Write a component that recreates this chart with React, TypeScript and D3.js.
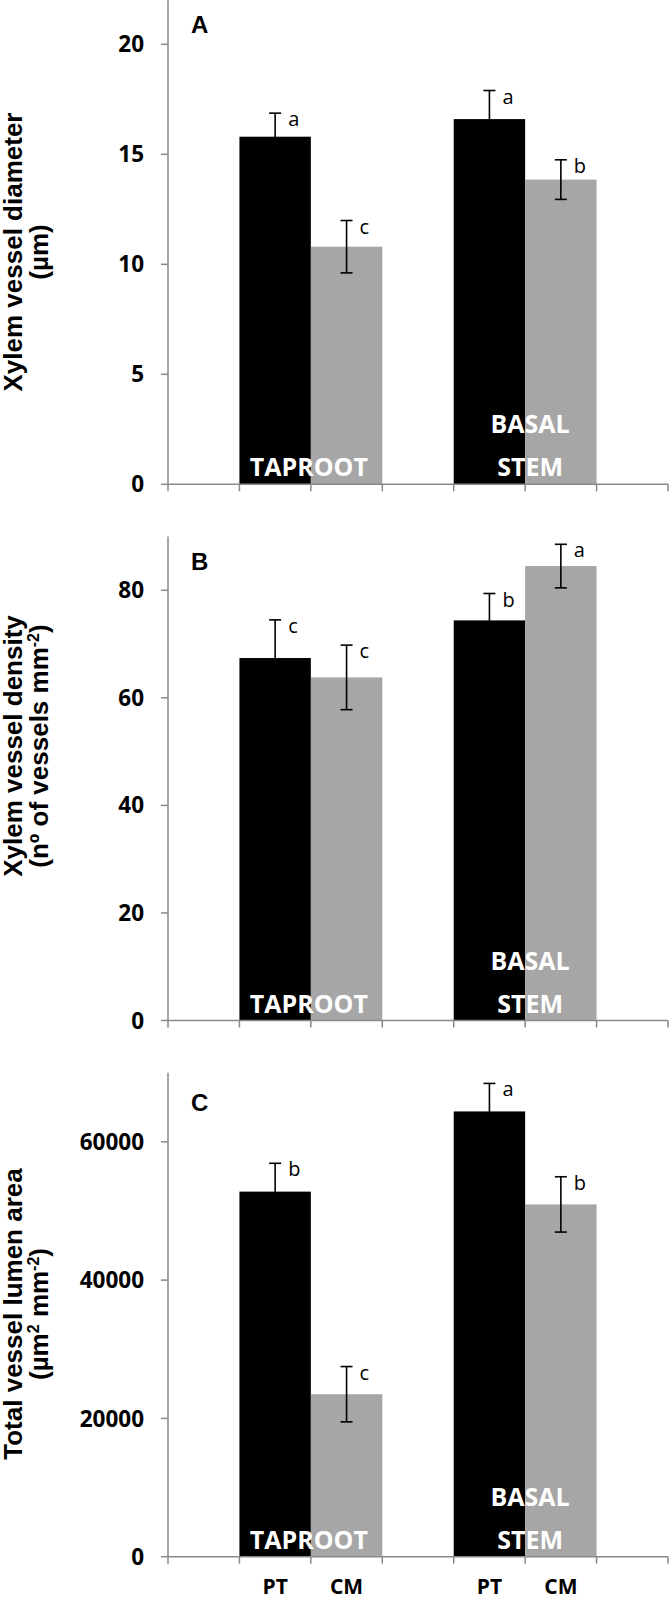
import React from "react";
import * as d3 from "d3";

// ---------- data ----------
const groups = ["TAPROOT", "BASAL STEM"];
const treatments = ["PT", "CM"];
// slots on the category axis (empty slots at both ends and between groups)
const slots = ["gapL", "TAPROOT|PT", "TAPROOT|CM", "gapM", "BASAL STEM|PT", "BASAL STEM|CM", "gapR"];

// order of values: TAPROOT PT, TAPROOT CM, BASAL STEM PT, BASAL STEM CM
const diameterMean = [15.8, 10.8, 16.6, 13.85];
const diameterErr = [1.07, 1.19, 1.3, 0.9];
const diameterLetters = ["a", "c", "a", "b"];
const diameterTicks = [0, 5, 10, 15, 20];

const densityMean = [67.4, 63.8, 74.4, 84.5];
const densityErr = [7.1, 6.0, 5.0, 4.05];
const densityLetters = ["c", "c", "b", "a"];
const densityTicks = [0, 20, 40, 60, 80];

const lumenMean = [52800, 23500, 64400, 50950];
const lumenErr = [4100, 4000, 4050, 4000];
const lumenLetters = ["b", "c", "a", "b"];
const lumenTicks = [0, 20000, 40000, 60000];

type Seg = { t: string; sup?: boolean };

const panels = [
  {
    tag: "A",
    mean: diameterMean,
    err: diameterErr,
    letters: diameterLetters,
    ticks: diameterTicks,
    max: 22,
    title1: [{ t: "Xylem vessel diameter" }] as Seg[],
    title2: [{ t: "(µm)" }] as Seg[],
    top: 0.3,
    bottom: 484.3,
    titleY: 252,
    tagDy: 33,
  },
  {
    tag: "B",
    mean: densityMean,
    err: densityErr,
    letters: densityLetters,
    ticks: densityTicks,
    max: 90,
    title1: [{ t: "Xylem vessel density" }] as Seg[],
    title2: [{ t: "(nº of vessels mm" }, { t: "-2", sup: true }, { t: ")" }] as Seg[],
    top: 536.5,
    bottom: 1020.5,
    titleY: 746,
    tagDy: 33,
  },
  {
    tag: "C",
    mean: lumenMean,
    err: lumenErr,
    letters: lumenLetters,
    ticks: lumenTicks,
    max: 70000,
    title1: [{ t: "Total vessel lumen area" }] as Seg[],
    title2: [{ t: "(µm" }, { t: "2", sup: true }, { t: " mm" }, { t: "-2", sup: true }, { t: ")" }] as Seg[],
    top: 1072.7,
    bottom: 1556.7,
    titleY: 1314,
    tagDy: 38,
  },
];

const W = 670;
const H = 1598;
const X0 = 168;
const X1 = 668;
const AXIS = "#898989";
const BAR_COLORS = ["#000000", "#a6a6a6"];
const TICK_FONT = "'Open Sans', 'Noto Sans', sans-serif";
const TITLE_FONT = "'Liberation Sans', Arial, sans-serif";

const x = d3.scaleBand<string>().domain(slots).range([X0, X1]).paddingInner(0).paddingOuter(0);

function Segs({ segs }: { segs: Seg[] }) {
  const out: React.ReactNode[] = [];
  let shifted = false;
  segs.forEach((s, i) => {
    if (s.sup) {
      out.push(
        <tspan key={i} dy={-9} fontSize={16}>
          {s.t}
        </tspan>
      );
      shifted = true;
    } else {
      out.push(
        <tspan key={i} dy={shifted ? 9 : 0}>
          {s.t}
        </tspan>
      );
      shifted = false;
    }
  });
  return <>{out}</>;
}

function Panel({ p, showX }: { p: (typeof panels)[number]; showX: boolean }) {
  const y = d3.scaleLinear().domain([0, p.max]).range([p.bottom, p.top]);
  const bars: { key: string; i: number; t: number; g: number }[] = [];
  groups.forEach((g, gi) =>
    treatments.forEach((t, ti) => bars.push({ key: `${g}|${t}`, i: gi * 2 + ti, t: ti, g: gi }))
  );
  const bw = x.bandwidth();
  const boundaries = slots.map((s) => x(s) as number).concat([X1]);
  return (
    <g>
      {/* bars */}
      {bars.map((b) => (
        <rect
          key={b.key}
          x={x(b.key)}
          y={y(p.mean[b.i])}
          width={bw}
          height={y(0) - y(p.mean[b.i])}
          fill={BAR_COLORS[b.t]}
        />
      ))}
      {/* group labels inside bars */}
      {groups.map((g, gi) => {
        const cx = (x(`${g}|CM`) as number) + (gi === 0 ? -2 : 5);
        const words = g.split(" ");
        return (
          <text
            key={g}
            textAnchor="middle"
            fontFamily={TICK_FONT}
            fontWeight={700}
            fontSize={25}
            fill="#ffffff"
          >
            {words.map((w, wi) => (
              <tspan key={w} x={cx} y={p.bottom - 8 - (words.length - 1 - wi) * 43}>
                {w}
              </tspan>
            ))}
          </text>
        );
      })}
      {/* error bars */}
      {bars.map((b) => {
        const cx = (x(b.key) as number) + bw / 2;
        const yt = y(p.mean[b.i] + p.err[b.i]);
        const yb = y(p.mean[b.i] - p.err[b.i]);
        return (
          <g key={b.key + "e"} stroke="#000" strokeWidth={1.6}>
            <line x1={cx} x2={cx} y1={yt} y2={yb} />
            <line x1={cx - 6} x2={cx + 6} y1={yt} y2={yt} />
            <line x1={cx - 6} x2={cx + 6} y1={yb} y2={yb} />
          </g>
        );
      })}
      {/* significance letters */}
      {bars.map((b) => {
        const cx = (x(b.key) as number) + bw / 2;
        const yt = y(p.mean[b.i] + p.err[b.i]);
        return (
          <text
            key={b.key + "l"}
            x={cx + 13}
            y={yt + 13}
            fontFamily={TICK_FONT}
            fontSize={20}
            fill="#000"
          >
            {p.letters[b.i]}
          </text>
        );
      })}
      {/* y axis */}
      <line x1={X0} x2={X0} y1={p.top} y2={p.bottom} stroke={AXIS} strokeWidth={1.5} />
      {p.ticks.map((t) => (
        <g key={t}>
          <line x1={X0 - 7} x2={X0} y1={y(t)} y2={y(t)} stroke={AXIS} strokeWidth={1.5} />
          <text
            x={X0 - 24}
            y={y(t)}
            dy="0.36em"
            textAnchor="end"
            fontFamily={TICK_FONT}
            fontWeight={700}
            fontSize={22.5}
            fill="#000"
          >
            {t}
          </text>
        </g>
      ))}
      {/* x axis */}
      <line x1={X0} x2={X1} y1={p.bottom} y2={p.bottom} stroke={AXIS} strokeWidth={1.5} />
      {boundaries.map((bx, i) => (
        <line key={i} x1={bx} x2={bx} y1={p.bottom} y2={p.bottom + 7} stroke={AXIS} strokeWidth={1.5} />
      ))}
      {showX &&
        bars.map((b) => (
          <text
            key={b.key + "x"}
            x={(x(b.key) as number) + bw / 2}
            y={H - 4}
            textAnchor="middle"
            fontFamily={TICK_FONT}
            fontWeight={700}
            fontSize={21}
            fill="#000"
          >
            {treatments[b.t]}
          </text>
        ))}
      {/* panel tag */}
      <text x={191} y={p.top + p.tagDy} fontFamily={TITLE_FONT} fontWeight={700} fontSize={24} fill="#000">
        {p.tag}
      </text>
      {/* y axis title */}
      <text
        transform="rotate(-90)"
        textAnchor="middle"
        fontFamily={TITLE_FONT}
        fontWeight={700}
        fontSize={26}
        fill="#000"
        x={-p.titleY}
        y={22}
      >
        <Segs segs={p.title1} />
      </text>
      <text
        transform="rotate(-90)"
        textAnchor="middle"
        fontFamily={TITLE_FONT}
        fontWeight={700}
        fontSize={26}
        fill="#000"
        x={-p.titleY}
        y={48}
      >
        <Segs segs={p.title2} />
      </text>
    </g>
  );
}

export default function App() {
  return (
    <svg
      width={W}
      height={H}
      viewBox={`0 0 ${W} ${H}`}
      style={{ position: "absolute", left: 0, top: 0, background: "#fff" }}
    >
      <rect width={W} height={H} fill="#fff" />
      {panels.map((p, i) => (
        <Panel key={p.tag} p={p} showX={i === panels.length - 1} />
      ))}
    </svg>
  );
}
